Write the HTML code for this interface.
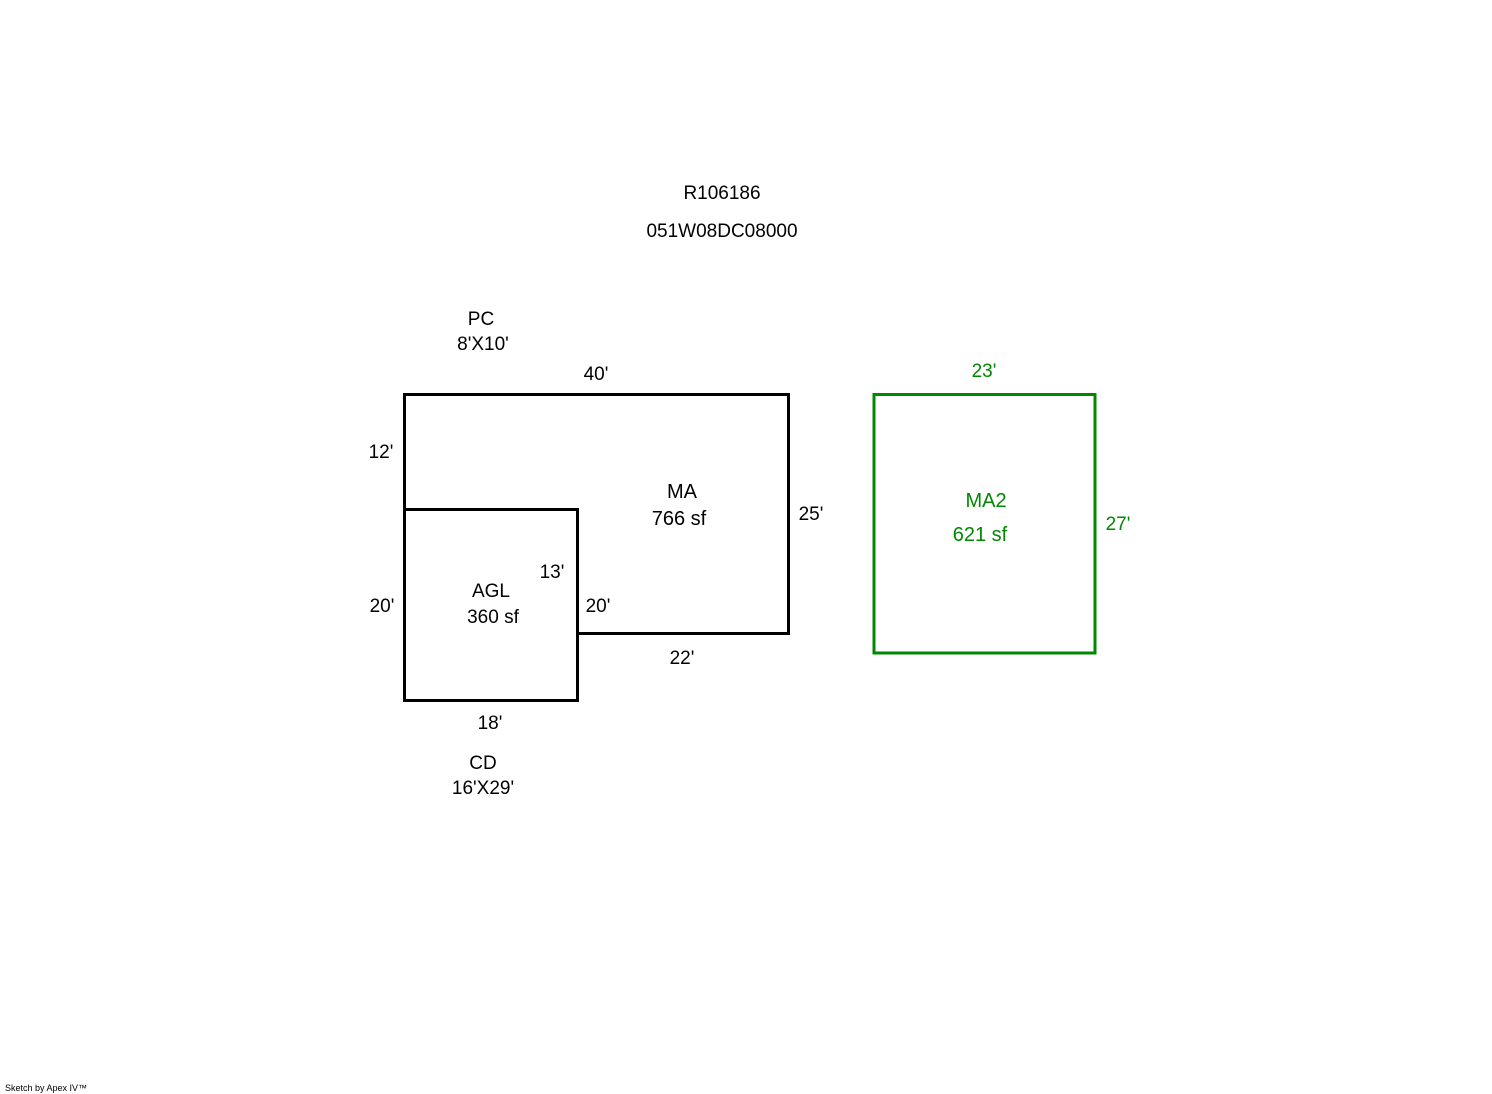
<!DOCTYPE html>
<html><head><meta charset="utf-8"><style>
html,body{margin:0;padding:0;background:#fff;}
svg{display:block;}
text{font-family:"Liberation Sans",Arial,sans-serif;font-size:19px;fill:#000;}
.g{fill:#008800;}
</style></head><body>
<svg width="1492" height="1094" viewBox="0 0 1492 1094" xmlns="http://www.w3.org/2000/svg">
<g fill="none" stroke="#000" stroke-width="3" stroke-linecap="square">
<polyline points="404.5,700.5 404.5,394.5 788.5,394.5 788.5,633.5 577.5,633.5"/>
<polyline points="404.5,509.5 577.5,509.5 577.5,700.5 404.5,700.5"/>
</g>
<rect x="874" y="394.5" width="221" height="258.5" fill="none" stroke="#008800" stroke-width="3"/>
<text x="722" y="199" text-anchor="middle">R106186</text>
<text x="722" y="237" text-anchor="middle">051W08DC08000</text>
<text x="481" y="325" text-anchor="middle">PC</text>
<text x="483" y="350" text-anchor="middle">8'X10'</text>
<text x="596" y="380" text-anchor="middle">40'</text>
<text x="381" y="458" text-anchor="middle">12'</text>
<text x="682" y="498" text-anchor="middle" style="font-size:20px">MA</text>
<text x="679" y="525" text-anchor="middle" style="font-size:20px">766 sf</text>
<text x="811" y="520" text-anchor="middle">25'</text>
<text x="552" y="578" text-anchor="middle">13'</text>
<text x="491" y="597" text-anchor="middle">AGL</text>
<text x="493" y="623" text-anchor="middle">360 sf</text>
<text x="382" y="612" text-anchor="middle">20'</text>
<text x="598" y="612" text-anchor="middle">20'</text>
<text x="682" y="664" text-anchor="middle">22'</text>
<text x="490" y="729" text-anchor="middle">18'</text>
<text x="483" y="769" text-anchor="middle">CD</text>
<text x="483" y="794" text-anchor="middle">16'X29'</text>
<text class="g" x="984" y="377" text-anchor="middle">23'</text>
<text class="g" x="986" y="507" text-anchor="middle" style="font-size:20px">MA2</text>
<text class="g" x="980" y="541" text-anchor="middle" style="font-size:20px">621 sf</text>
<text class="g" x="1118" y="530" text-anchor="middle">27'</text>
<text x="5" y="1091" style="font-size:9px">Sketch by Apex IV™</text>
</svg>
</body></html>
